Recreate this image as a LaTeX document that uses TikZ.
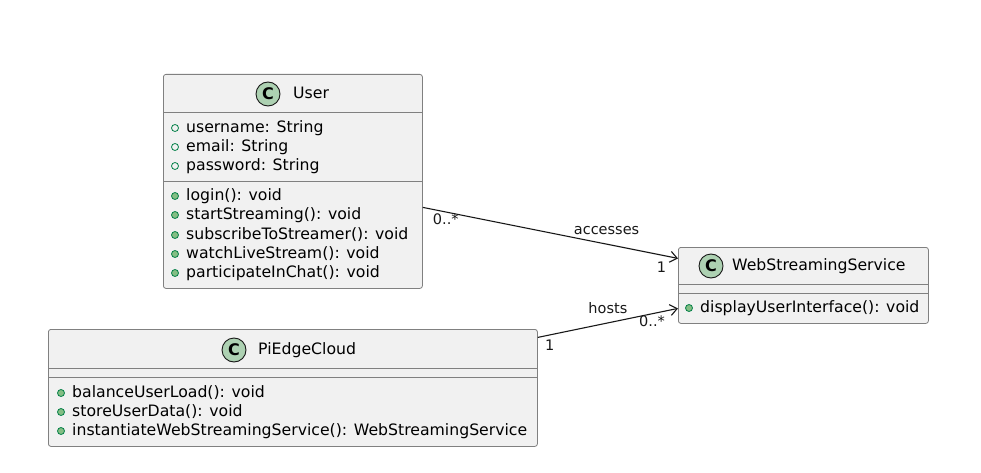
\documentclass[tikz,border=0pt]{standalone}
\usepackage{fontspec}
\setmainfont{DejaVu Sans}
\usepackage{tikz}
\usetikzlibrary{arrows.meta,calc,positioning}
\definecolor{boxfill}{HTML}{F1F1F1}
\definecolor{iconfill}{HTML}{ADD1B2}
\definecolor{dotline}{HTML}{038048}
\definecolor{dotfill}{HTML}{84BE84}
\definecolor{lineink}{HTML}{181818}

\begin{document}
\begin{tikzpicture}[x=1pt,y=-1pt]
    \tikzset{ClassBox/.style={draw=black!50, line width=0.8pt, fill=boxfill,
        rounded corners=2.5pt, inner sep=0pt, anchor=north west},
      ClassIcon/.style={circle, draw=lineink, line width=0.9pt, fill=iconfill,
        minimum size=24pt, inner sep=0pt, font=\fontsize{16}{16}\selectfont\bfseries},
      Member/.style={anchor=west, inner sep=0pt, text height=11.5pt, text depth=3pt,
        font=\fontsize{15.7}{19}\selectfont},
      SepLine/.style={draw=black!50, line width=0.8pt},
      AttrDot/.style={circle, draw=dotline, line width=0.8pt, minimum size=7pt, inner sep=0pt},
      MethodDot/.style={AttrDot, fill=dotfill},
      EdgeStyle/.style={draw=lineink, line width=1.1pt, -{Straight Barb[length=7pt,width=11pt]}},
      LabelStyle/.style={font=\fontsize{14.5}{16}\selectfont, inner sep=1pt, text=lineink}}
    \useasboundingbox (0,0) rectangle (981,473);
    \node[ClassBox, minimum width=259pt, minimum height=214pt] (User) at (163,74) {};
    \draw[SepLine] (163,112) -- (422,112);
    \draw[SepLine] (163,181) -- (422,181);
    \node[ClassIcon] (UserIcon) at (268,94) {C};
    \node[Member] (UserTitle) at (293,94) {User};
    \node[AttrDot] (ud1) at (175,128) {};
    \node[Member] (username) at (186,128) {username: String};
    \node[AttrDot] (ud2) at (175,147) {};
    \node[Member] (email) at (186,147) {email: String};
    \node[AttrDot] (ud3) at (175,166) {};
    \node[Member] (password) at (186,166) {password: String};
    \node[MethodDot] (ud4) at (175,196) {};
    \node[Member] (login) at (186,196) {login(): void};
    \node[MethodDot] (ud5) at (175,215) {};
    \node[Member] (startStreaming) at (186,215) {startStreaming(): void};
    \node[MethodDot] (ud6) at (175,235) {};
    \node[Member] (subscribe) at (186,235) {subscribeToStreamer(): void};
    \node[MethodDot] (ud7) at (175,254) {};
    \node[Member] (watch) at (186,254) {watchLiveStream(): void};
    \node[MethodDot] (ud8) at (175,273) {};
    \node[Member] (chat) at (186,273) {participateInChat(): void};

    \node[ClassBox, minimum width=250pt, minimum height=76pt] (Web) at (678,247) {};
    \draw[SepLine] (678,284) -- (928,284);
    \draw[SepLine] (678,293) -- (928,293);
    \node[ClassIcon] (WebIcon) at (711,266) {C};
    \node[Member] (WebTitle) at (732,266) {WebStreamingService};
    \node[MethodDot] (wd1) at (689,308) {};
    \node[Member] (display) at (700,308) {displayUserInterface(): void};

    \node[ClassBox, minimum width=489pt, minimum height=117pt] (Pi) at (48,329) {};
    \draw[SepLine] (48,368) -- (537,368);
    \draw[SepLine] (48,377) -- (537,377);
    \node[ClassIcon] (PiIcon) at (234,350) {C};
    \node[Member] (PiTitle) at (258,350) {PiEdgeCloud};
    \node[MethodDot] (pd1) at (61,393) {};
    \node[Member] (balance) at (72,393) {balanceUserLoad(): void};
    \node[MethodDot] (pd2) at (61,412) {};
    \node[Member] (store) at (72,412) {storeUserData(): void};
    \node[MethodDot] (pd3) at (61,431) {};
    \node[Member] (instantiate) at (72,431) {instantiateWebStreamingService(): WebStreamingService};

    \draw[EdgeStyle] ([yshift=-26pt]User.east) -- node[LabelStyle, pos=0.09, below] {0..*}
      node[LabelStyle, pos=0.72, above=8pt] {accesses}
      node[LabelStyle, pos=0.935, below=5pt] {1} ([yshift=27pt]Web.west);
    \draw[EdgeStyle] ([yshift=50.5pt]Pi.east) -- node[LabelStyle, pos=0.085, below=3pt] {1}
      node[LabelStyle, pos=0.5, above=8pt] {hosts}
      node[LabelStyle, pos=0.815, below] {0..*} ([yshift=-23pt]Web.west);
  \end{tikzpicture}
\end{document}
